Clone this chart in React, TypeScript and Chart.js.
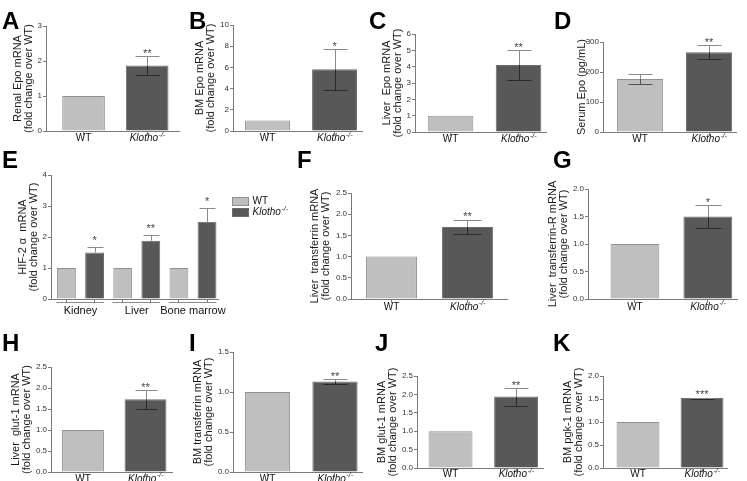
import React, { useEffect, useRef } from "react";
import { Chart, registerables } from "chart.js";

Chart.register(...registerables);

const FONT = "'Liberation Sans', Arial, Helvetica, sans-serif";

// ---------------- data ----------------
const genotypes = ["WT", "Klotho"];

const renalEpo = [1, 1.87];
const renalEpoErr = [0, 0.27];
const renalEpoStars = ["", "**"];

const bmEpo = [1, 5.82];
const bmEpoErr = [0, 1.96];
const bmEpoStars = ["", "*"];

const liverEpo = [1, 4.1];
const liverEpoErr = [0, 0.9];
const liverEpoStars = ["", "**"];

const serumEpo = [177, 266];
const serumEpoErr = [17, 23];
const serumEpoStars = ["", "**"];

const hifTissues = ["Kidney", "Liver", "Bone marrow"];
const hifWT = [1, 1, 1];
const hifKlotho = [1.5, 1.88, 2.49];
const hifKlothoErr = [0.18, 0.2, 0.46];
const hifStars = ["*", "**", "*"];

const liverTf = [1, 1.7];
const liverTfErr = [0, 0.17];
const liverTfStars = ["", "**"];

const liverTfR = [1, 1.5];
const liverTfRErr = [0, 0.21];
const liverTfRStars = ["", "*"];

const liverGlut1 = [1, 1.73];
const liverGlut1Err = [0, 0.22];
const liverGlut1Stars = ["", "**"];

const bmTf = [1, 1.13];
const bmTfErr = [0, 0.03];
const bmTfStars = ["", "**"];

const bmGlut1 = [1, 1.94];
const bmGlut1Err = [0, 0.245];
const bmGlut1Stars = ["", "**"];

const bmPgk1 = [1, 1.52];
const bmPgk1Err = [0, 0.012];
const bmPgk1Stars = ["", "***"];

// ---------------- styles ----------------
const WT_FILL = "#bfbfbf";
const WT_EDGE = "#909090";
const KL_FILL = "#585858";
const KL_EDGE = "#6c6c6c";
const AXIS = "#7a7a7a";

const PAD_TOP = 30;
const X_H = 30;

type PanelDef = {
  letter: string;
  letterPos: [number, number];
  title: string[];
  values?: number[];
  errors?: number[];
  stars?: string[];
  grouped?: boolean;
  yMax: number;
  yStep: number;
  dec: number;
  area: [number, number, number, number];
  xRange: [number, number];
  titleW: number;
  starGap: number;
  labelDy: number;
};

const panels: PanelDef[] = [
  { letter: "A", letterPos: [2, 12], title: ["Renal Epo mRNA", "(fold change over WT)"], values: renalEpo, errors: renalEpoErr, stars: renalEpoStars, yMax: 3, yStep: 1, dec: 0, area: [46, 26, 179, 131], xRange: [0.41, 2.5], titleW: 34, starGap: 6, labelDy: 7.5 },
  { letter: "B", letterPos: [189, 12], title: ["BM Epo mRNA", "(fold change over WT)"], values: bmEpo, errors: bmEpoErr, stars: bmEpoStars, yMax: 10, yStep: 2, dec: 0, area: [233, 25, 362, 131], xRange: [0.485, 2.41], titleW: 39, starGap: 6, labelDy: 7.5 },
  { letter: "C", letterPos: [369, 12], title: ["Liver  Epo mRNA", "(fold change over WT)"], values: liverEpo, errors: liverEpoErr, stars: liverEpoStars, yMax: 6, yStep: 1, dec: 0, area: [415, 34, 546, 132], xRange: [0.478, 2.404], titleW: 34, starGap: 6, labelDy: 7.5 },
  { letter: "D", letterPos: [554, 12], title: ["Serum Epo (pg/mL)"], values: serumEpo, errors: serumEpoErr, stars: serumEpoStars, yMax: 300, yStep: 100, dec: 0, area: [603, 42, 736, 132], xRange: [0.464, 2.39], titleW: 27, starGap: 6, labelDy: 7.5 },
  { letter: "E", letterPos: [2, 151], title: ["HIF-2 \u03b1  mRNA", "(fold change over WT)"], grouped: true, yMax: 4, yStep: 1, dec: 0, area: [51, 175, 218, 299], xRange: [0.45, 6.39], titleW: 34, starGap: 10, labelDy: 12 },
  { letter: "F", letterPos: [297, 151], title: ["Liver  transferrin mRNA", "(fold change over WT)"], values: liverTf, errors: liverTfErr, stars: liverTfStars, yMax: 2.5, yStep: 0.5, dec: 1, area: [351, 193, 507, 299], xRange: [0.467, 2.52], titleW: 42, starGap: 7, labelDy: 8 },
  { letter: "G", letterPos: [553, 151], title: ["Liver  transferrin-R mRNA", "(fold change over WT)"], values: liverTfR, errors: liverTfRErr, stars: liverTfRStars, yMax: 2, yStep: 0.5, dec: 1, area: [588, 189, 737, 299], xRange: [0.356, 2.4], titleW: 41, starGap: 6, labelDy: 8 },
  { letter: "H", letterPos: [2, 334], title: ["Liver  glut-1 mRNA", "(fold change over WT)"], values: liverGlut1, errors: liverGlut1Err, stars: liverGlut1Stars, yMax: 2.5, yStep: 0.5, dec: 1, area: [51, 367, 172, 472], xRange: [0.488, 2.424], titleW: 41, starGap: 6, labelDy: 7 },
  { letter: "I", letterPos: [189, 334], title: ["BM transferrin mRNA", "(fold change over WT)"], values: bmTf, errors: bmTfErr, stars: bmTfStars, yMax: 1.5, yStep: 0.5, dec: 1, area: [233, 352, 362, 472], xRange: [0.489, 2.4], titleW: 41, starGap: 6, labelDy: 7 },
  { letter: "J", letterPos: [375, 334], title: ["BM glut-1 mRNA", "(fold change over WT)"], values: bmGlut1, errors: bmGlut1Err, stars: bmGlut1Stars, yMax: 2.5, yStep: 0.5, dec: 1, area: [417, 376, 543, 468], xRange: [0.489, 2.41], titleW: 41, starGap: 6, labelDy: 6.5 },
  { letter: "K", letterPos: [553, 334], title: ["BM pgk-1 mRNA", "(fold change over WT)"], values: bmPgk1, errors: bmPgk1Err, stars: bmPgk1Stars, yMax: 2, yStep: 0.5, dec: 1, area: [603, 376, 727, 468], xRange: [0.453, 2.39], titleW: 41, starGap: 7, labelDy: 6.5 },
];

// ---------------- helpers ----------------
function drawGenotypeText(ctx: any, text: string, italic: boolean, sup: string, size: number, x: number, y: number, align: string) {
  const main = `${italic ? "italic " : ""}${size}px ${FONT}`;
  const supSize = Math.max(6, Math.round(size * 0.65));
  const supFont = `${italic ? "italic " : ""}${supSize}px ${FONT}`;
  ctx.font = main;
  const w1 = ctx.measureText(text).width;
  ctx.font = supFont;
  const w2 = sup ? ctx.measureText(sup).width : 0;
  const sx = align === "center" ? x - (w1 + w2) / 2 : x;
  ctx.textAlign = "left";
  ctx.textBaseline = "middle";
  ctx.font = main;
  ctx.fillText(text, sx, y);
  if (sup) {
    ctx.font = supFont;
    ctx.fillText(sup, sx + w1 + 0.5, y - size * 0.38);
  }
}

function line(ctx: any, x1: number, y1: number, x2: number, y2: number) {
  ctx.beginPath();
  ctx.moveTo(x1, y1);
  ctx.lineTo(x2, y2);
  ctx.stroke();
}

const errorBarPlugin = {
  id: "errorBars",
  afterDatasetsDraw(chart: any, _args: any, opts: any) {
    const ctx = chart.ctx;
    const ys = chart.scales.y;
    chart.data.datasets.forEach((ds: any, di: number) => {
      const meta = chart.getDatasetMeta(di);
      meta.data.forEach((el: any, i: number) => {
        const v = ds.data[i].y;
        const e = (ds.errors && ds.errors[i]) || 0;
        const star = (ds.stars && ds.stars[i]) || "";
        const x = Math.round(el.x) + 0.5;
        const half = Math.round(el.width * opts.cap);
        const yBar = ys.getPixelForValue(v);
        const yTop = Math.round(ys.getPixelForValue(v + e)) + 0.5;
        ctx.save();
        ctx.lineWidth = 1;
        if (e > 0) {
          if (opts.lower) {
            const yLow = Math.round(ys.getPixelForValue(v - e)) + 0.5;
            ctx.strokeStyle = ds.errInner;
            line(ctx, x, yBar, x, yLow);
            line(ctx, x - half, yLow, x + half, yLow);
          }
          ctx.strokeStyle = "#8a8a8a";
          line(ctx, x, yBar, x, yTop);
          line(ctx, x - half, yTop, x + half, yTop);
        }
        if (star) {
          ctx.fillStyle = "#444";
          ctx.font = `11px ${FONT}`;
          ctx.textAlign = "center";
          ctx.textBaseline = "alphabetic";
          ctx.fillText(star, el.x, yTop - opts.starGap + 6.3);
        }
        ctx.restore();
      });
    });
  },
};

const xLabelPlugin = {
  id: "xLabels",
  afterDraw(chart: any, _args: any, opts: any) {
    const ctx = chart.ctx;
    const xs = chart.scales.x;
    const y = chart.chartArea.bottom + opts.dy;
    ctx.save();
    ctx.fillStyle = "#111";
    (opts.items || []).forEach((it: any) => {
      drawGenotypeText(ctx, it.text, it.italic, it.sup, opts.size, xs.getPixelForValue(it.at), y, "center");
    });
    ctx.restore();
  },
};

const groupLinePlugin = {
  id: "groupLines",
  afterDraw(chart: any, _args: any, opts: any) {
    if (!opts.show) return;
    const ctx = chart.ctx;
    const xs = chart.scales.x;
    const y = Math.round(chart.chartArea.bottom) + 3.5;
    ctx.save();
    ctx.strokeStyle = "#8a8a8a";
    ctx.lineWidth = 1;
    for (let g = 0; g < opts.groups; g++) {
      line(ctx, xs.getPixelForValue(2 * g + 1 - 0.36), y, xs.getPixelForValue(2 * g + 2 + 0.33), y);
    }
    ctx.restore();
  },
};

const boxLegendPlugin = {
  id: "boxLegend",
  afterDraw(chart: any, _args: any, opts: any) {
    if (!opts.show) return;
    const ctx = chart.ctx;
    const { right, top } = chart.chartArea;
    ctx.save();
    chart.data.datasets.forEach((ds: any, i: number) => {
      const bx = Math.round(right + 14) + 0.5;
      const by = Math.round(top + 22 + i * 11) + 0.5;
      ctx.fillStyle = ds.backgroundColor;
      ctx.fillRect(bx, by, 16, 8);
      ctx.strokeStyle = ds.borderColor;
      ctx.lineWidth = 1;
      ctx.strokeRect(bx, by, 16, 8);
      ctx.fillStyle = "#111";
      drawGenotypeText(ctx, ds.label, i === 1, i === 1 ? "-/-" : "", 10, bx + 20, by + 4, "left");
    });
    ctx.restore();
  },
};

function barStyle(i: number) {
  return {
    backgroundColor: i === 0 ? WT_FILL : KL_FILL,
    borderColor: i === 0 ? WT_EDGE : KL_EDGE,
    errInner: i === 0 ? "#505050" : "#2a2a2a",
    borderWidth: 1,
    grouped: false,
    categoryPercentage: 1,
    barPercentage: 0.67,
  };
}

function buildDatasets(p: PanelDef) {
  if (p.grouped) {
    return [
      { label: "WT", data: hifWT.map((v, i) => ({ x: 2 * i + 1, y: v })), errors: hifWT.map(() => 0), stars: hifWT.map(() => ""), ...barStyle(0) },
      { label: "Klotho", data: hifKlotho.map((v, i) => ({ x: 2 * i + 2, y: v })), errors: hifKlothoErr, stars: hifStars, ...barStyle(1) },
    ];
  }
  return genotypes.map((g, i) => ({
    label: g,
    data: [{ x: i + 1, y: (p.values as number[])[i] }],
    errors: [(p.errors as number[])[i]],
    stars: [(p.stars as string[])[i]],
    ...barStyle(i),
  }));
}

function geometry(p: PanelDef) {
  const [l, t, r, b] = p.area;
  const padRight = p.grouped ? 120 : 8;
  const left = l - p.titleW;
  const top = t - PAD_TOP;
  return { left, top, w: r + padRight - left, h: b + X_H - top, padRight };
}

function makeChart(canvas: HTMLCanvasElement, p: PanelDef) {
  const g = geometry(p);
  const tickVals = p.grouped ? hifTissues.flatMap((_, i) => [2 * i + 1, 2 * i + 2]) : genotypes.map((_, i) => i + 1);
  const items = p.grouped
    ? hifTissues.map((t, i) => ({ text: t, at: 2 * i + 1.5, italic: false, sup: "" }))
    : genotypes.map((t, i) => ({ text: t, at: i + 1, italic: i === 1, sup: i === 1 ? "-/-" : "" }));
  return new Chart(canvas, {
    type: "bar",
    data: { datasets: buildDatasets(p) as any },
    options: {
      animation: false,
      responsive: false,
      devicePixelRatio: 1,
      events: [],
      layout: { padding: { top: PAD_TOP, right: g.padRight, left: 0, bottom: 0 } },
      plugins: {
        legend: { display: false },
        tooltip: { enabled: false },
        errorBars: { cap: p.grouped ? 0.4 : 0.27, lower: !p.grouped, starGap: p.starGap },
        xLabels: { items, dy: p.labelDy, size: p.grouped ? 11 : 10 },
        boxLegend: { show: !!p.grouped },
        groupLines: { show: !!p.grouped, groups: hifTissues.length },
      } as any,
      scales: {
        x: {
          type: "linear",
          min: p.xRange[0],
          max: p.xRange[1],
          offset: false,
          afterBuildTicks: (s: any) => {
            s.ticks = tickVals.map((v) => ({ value: v }));
          },
          afterFit: (s: any) => {
            s.height = X_H;
          },
          ticks: { display: false },
          grid: { drawOnChartArea: false, drawTicks: true, tickLength: 4, color: AXIS, offset: false },
          border: { display: true, color: AXIS, width: 1 },
        },
        y: {
          type: "linear",
          min: 0,
          max: p.yMax,
          afterFit: (s: any) => {
            s.width = p.titleW;
          },
          ticks: {
            stepSize: p.yStep,
            color: "#333",
            font: { family: FONT, size: 8 },
            padding: 1,
            callback: (v: any) => Number(v).toFixed(p.dec),
          },
          grid: { drawOnChartArea: false, drawTicks: true, tickLength: 3, color: AXIS },
          border: { display: true, color: AXIS, width: 1 },
          title: {
            display: true,
            text: p.title,
            color: "#1a1a1a",
            font: { family: FONT, size: 11, lineHeight: 1 },
            padding: 0,
          },
        },
      } as any,
    },
    plugins: [errorBarPlugin, xLabelPlugin, boxLegendPlugin, groupLinePlugin] as any,
  });
}

function Panel({ p }: { p: PanelDef }) {
  const ref = useRef<HTMLCanvasElement | null>(null);
  const g = geometry(p);
  useEffect(() => {
    const chart = makeChart(ref.current as HTMLCanvasElement, p);
    return () => chart.destroy();
  }, []);
  return (
    <canvas
      ref={ref}
      width={g.w}
      height={g.h}
      style={{ position: "absolute", left: g.left, top: g.top, width: g.w, height: g.h }}
    />
  );
}

export default function App() {
  return (
    <div style={{ position: "absolute", left: 0, top: 0, width: 747, height: 481, background: "#fff", overflow: "hidden" }}>
      {panels.map((p) => (
        <Panel key={p.letter} p={p} />
      ))}
      {panels.map((p) => (
        <div
          key={"L" + p.letter}
          style={{
            position: "absolute",
            left: p.letterPos[0],
            top: p.letterPos[1] - 3,
            font: `bold 24px ${FONT}`,
            lineHeight: "24px",
            color: "#000",
          }}
        >
          {p.letter}
        </div>
      ))}
    </div>
  );
}
